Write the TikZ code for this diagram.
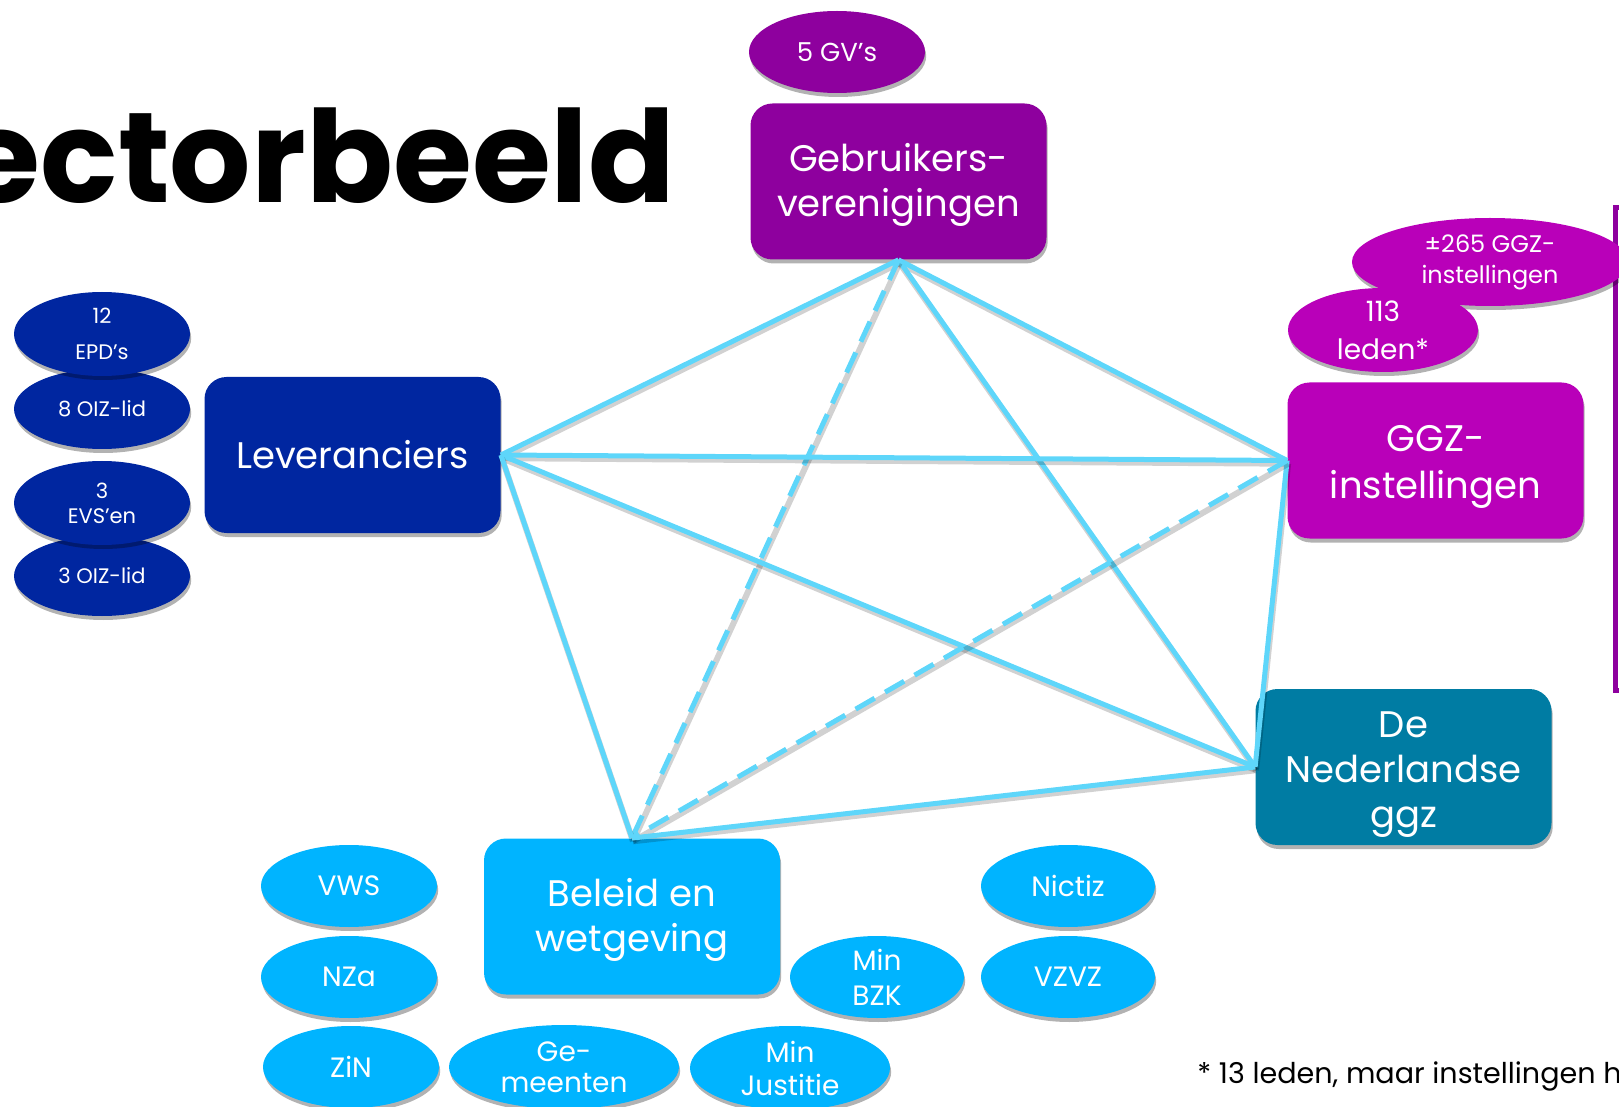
\documentclass[tikz,border=0pt]{standalone}
\usepackage{fontspec}
\setmainfont{Poppins}
\usetikzlibrary{shapes.geometric,shadows}

\definecolor{cgeb}{RGB}{142,0,158}
\definecolor{clev}{RGB}{0,38,160}
\definecolor{cggz}{RGB}{185,0,185}
\definecolor{cned}{RGB}{0,124,163}
\definecolor{cbel}{RGB}{0,180,255}
\definecolor{clink}{RGB}{94,214,250}

% a tall invisible strut on a first line lowers a centred text block
\newcommand\firstlinestrut[1]{\rule{0pt}{#1}}

\begin{document}
\begin{tikzpicture}[x=0.5pt,y=-0.5pt,
  softshadow/.style={drop shadow={shadow xshift=0.6pt,shadow yshift=-2pt,opacity=0.3,fill=black}},
  box/.style={rounded corners=11pt,minimum width=148pt,minimum height=78pt,
    inner sep=0pt,text=white,align=center,softshadow,
    font=\fontsize{18.5}{22.5}\selectfont},
  oval/.style={ellipse,inner sep=0pt,text=white,align=center,softshadow,
    minimum width=88pt,minimum height=41pt},
  link/.style={draw=clink,line width=2.5pt,
    preaction={draw=black,opacity=0.18,line width=3pt,
      transform canvas={xshift=0.5pt,yshift=-1.6pt}}},
  dashlink/.style={link,dash pattern=on 11pt off 6pt},
]
\useasboundingbox (0,0) rectangle (1619,1107);

% title
\node[anchor=base east,inner sep=0pt,font=\fontsize{64}{68}\selectfont\bfseries]
  (title) at (676,203) {ectorbeeld};

% bracket at the right margin
\draw[cgeb,line width=2.5pt] (1660,208) -- (1615.5,208) -- (1615.5,690) -- (1660,690);

% main boxes
\node[box,fill=cgeb] (geb) at (898.5,181.5) {\firstlinestrut{17.7pt}Gebruikers-\\verenigingen};
\node[box,fill=clev] (lev) at (352.5,455) {Leveranciers};
\node[box,fill=cggz,font=\fontsize{18.5}{23.5}\selectfont] (ggz) at (1435.5,460.5) {\firstlinestrut{19.4pt}GGZ-\\instellingen};
\node[box,fill=cned] (ned) at (1403.5,767) {\firstlinestrut{20.7pt}De\\Nederlandse\\ggz};
\node[box,fill=cbel] (bel) at (632,916.5) {\firstlinestrut{17.3pt}Beleid en\\wetgeving};

% satellites of the user associations
\node[oval,fill=cgeb,font=\fontsize{13}{15}\selectfont] (gv) at (837,52) {5 GV's};

% satellites of the suppliers
\node[oval,fill=clev,minimum height=40pt,font=\fontsize{10.5}{12}\selectfont] (oiz8) at (102,409) {8 OIZ-lid};
\node[oval,fill=clev,minimum height=42pt,font=\fontsize{10.5}{18}\selectfont] (epd) at (102,334) {12\\EPD's};
\node[oval,fill=clev,minimum height=40pt,font=\fontsize{10.5}{12}\selectfont] (oiz3) at (102,576) {3 OIZ-lid};
\node[oval,fill=clev,minimum height=42pt,font=\fontsize{10.5}{12.5}\selectfont] (evs) at (102,503) {3\\EVS'en};

% satellites of the institutions
\node[oval,fill=cggz,minimum width=138pt,minimum height=44pt,font=\fontsize{12}{15.5}\selectfont] (n265) at (1490,262) {±265 GGZ-\\instellingen};
\node[oval,fill=cggz,minimum width=95pt,minimum height=42pt,font=\fontsize{14}{19}\selectfont] (leden) at (1383,330) {113\\leden*};

% satellites of policy and legislation
\node[oval,fill=cbel,font=\fontsize{14}{16}\selectfont] (vws) at (349,886) {VWS};
\node[oval,fill=cbel,font=\fontsize{14}{16}\selectfont] (nza) at (349,977) {NZa};
\node[oval,fill=cbel,font=\fontsize{14}{16}\selectfont] (zin) at (351,1067) {ZiN};
\node[oval,fill=cbel,minimum width=115pt,minimum height=42pt,font=\fontsize{14}{15.5}\selectfont] (gem) at (564,1067) {Ge-\\meenten};
\node[oval,fill=cbel,minimum width=100pt,minimum height=42pt,font=\fontsize{14}{16.5}\selectfont] (just) at (790,1068) {Min\\Justitie};
\node[oval,fill=cbel,minimum width=87pt,font=\fontsize{14}{17.5}\selectfont] (bzk) at (877,977) {Min\\BZK};
\node[oval,fill=cbel,minimum width=87pt,font=\fontsize{14}{16}\selectfont] (nictiz) at (1068,886) {Nictiz};
\node[oval,fill=cbel,minimum width=87pt,font=\fontsize{14}{16}\selectfont] (vzvz) at (1068,977) {VZVZ};

% connections between the five parties
\draw[link] (geb.south) -- (lev.east);
\draw[link] (geb.south) -- (ggz.west);
\draw[link] (geb.south) -- (ned.west);
\draw[dashlink] (geb.south) -- (bel.north);
\draw[link] (lev.east) -- (ggz.west);
\draw[link] (lev.east) -- (ned.west);
\draw[link] (lev.east) -- (bel.north);
\draw[link] (ggz.west) -- (ned.west);
\draw[dashlink] (ggz.west) -- (bel.north);
\draw[link] (ned.west) -- (bel.north);

% footnote
\node[anchor=base west,inner sep=0pt,font=\fontsize{14.3}{16}\selectfont]
  (note) at (1197,1083) {* 13 leden, maar instellingen h};
\end{tikzpicture}
\end{document}
